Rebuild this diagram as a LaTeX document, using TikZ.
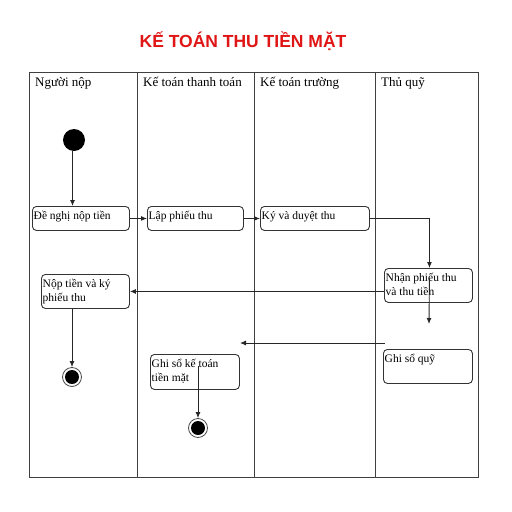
\documentclass[tikz,border=0pt]{standalone}
\usepackage{fontspec}
\setmainfont{Liberation Serif}
\newfontfamily\titlefont{Liberation Sans}
\usetikzlibrary{arrows.meta}
\definecolor{titlered}{HTML}{E01515}
\begin{document}
\begin{tikzpicture}[x=1pt,y=-1pt,
  frame/.style={draw=black!75,line width=1pt},
  box/.style={draw=black!80,line width=0.9pt,rounded corners=4pt,anchor=north west,inner sep=0pt},
  lbl/.style={anchor=north west,inner sep=0pt,align=left,font=\fontsize{11.5}{14}\selectfont},
  hdr/.style={anchor=base west,inner sep=0pt,font=\fontsize{13}{15}\selectfont},
  arr/.style={draw=black!85,line width=0.9pt,-{Latex[length=6pt,width=5pt]}},
  startc/.style={circle,fill=black,minimum size=22pt,inner sep=0pt},
  endc/.style={circle,draw=black!70,line width=0.8pt,fill=white,minimum size=19pt,inner sep=0pt,
    path picture={\fill[black] (path picture bounding box.center) circle (7pt);}}
]
\useasboundingbox (0,0) rectangle (512,512);
% title
\node[anchor=base,inner sep=0pt,text=titlered,font={\titlefont\fontsize{17.5}{20}\selectfont\bfseries}] (title) at (243,47) {KẾ TOÁN THU TIỀN MẶT};
% frame and lanes
\draw[frame] (29,72) rectangle (478,477);
\draw[frame] (137,72) -- (137,477);
\draw[frame] (254,72) -- (254,477);
\draw[frame] (375,72) -- (375,477);
\node[hdr] (h1) at (35,86) {Người nộp};
\node[hdr] (h2) at (143,86) {Kế toán thanh toán};
\node[hdr] (h3) at (260,86) {Kế toán trường};
\node[hdr] (h4) at (381,86) {Thủ quỹ};
% boxes
\node[box,minimum width=97pt,minimum height=24pt] (b1) at (32,206) {};
\node[lbl] (t1) at ([xshift=1.5pt,yshift=-2pt]b1.north west) {\rule{0pt}{11pt}Đề nghị nộp tiền};
\node[box,minimum width=96pt,minimum height=24pt] (b2) at (147,206) {};
\node[lbl] (t2) at ([xshift=1.5pt,yshift=-2pt]b2.north west) {\rule{0pt}{11pt}Lập phiếu thu};
\node[box,minimum width=109pt,minimum height=24pt] (b3) at (260,206) {};
\node[lbl] (t3) at ([xshift=1.5pt,yshift=-2pt]b3.north west) {\rule{0pt}{11pt}Ký và duyệt thu};
\node[box,minimum width=88pt,minimum height=34pt] (b4) at (384,268) {};
\node[lbl] (t4) at ([xshift=1.5pt,yshift=-2pt]b4.north west) {\rule{0pt}{11pt}Nhận phiếu thu\\và thu tiền};
\node[box,minimum width=88pt,minimum height=34pt] (b5) at (41,274) {};
\node[lbl] (t5) at ([xshift=1.5pt,yshift=-2pt]b5.north west) {\rule{0pt}{11pt}Nộp tiền và ký\\phiếu thu};
\node[box,minimum width=89pt,minimum height=35pt] (b6) at (150,354) {};
\node[lbl] (t6) at ([xshift=1.5pt,yshift=-2pt]b6.north west) {\rule{0pt}{11pt}Ghi sổ kế toán\\tiền mặt};
\node[box,minimum width=89pt,minimum height=34pt] (b7) at (383,349) {};
\node[lbl] (t7) at ([xshift=1.5pt,yshift=-2pt]b7.north west) {\rule{0pt}{11pt}Ghi sổ quỹ};
% start / end
\node[startc] (s0) at (74,140) {};
\node[endc] (e1) at (72,377) {};
\node[endc] (e2) at (198,428) {};
% free ends
\coordinate (c1) at (429,324);
\coordinate (c2) at (385,343);
\coordinate (c3) at (240,343);
\coordinate (c4) at (198,366);
% connectors
\draw[arr] (s0 |- s0.south) ++(-1.5pt,0) -- ([xshift=-1.5pt]s0 |- b1.north);
\draw[arr] (b1.east) -- (b2.west);
\draw[arr] (b2.east) -- (b3.west);
\draw[arr] (b3.east) -| ([xshift=1pt]b4.north);
\draw[arr] (b4.west |- b5.east) -- (b5.east);
\draw[arr] ([xshift=1pt,yshift=-10pt]b4.north) -- (c1);
\draw[arr] (c2) -- (c3);
\draw[arr] (e1 |- b5.south) -- (e1.north);
\draw[arr] (c4) -- (e2.north);
\end{tikzpicture}
\end{document}
